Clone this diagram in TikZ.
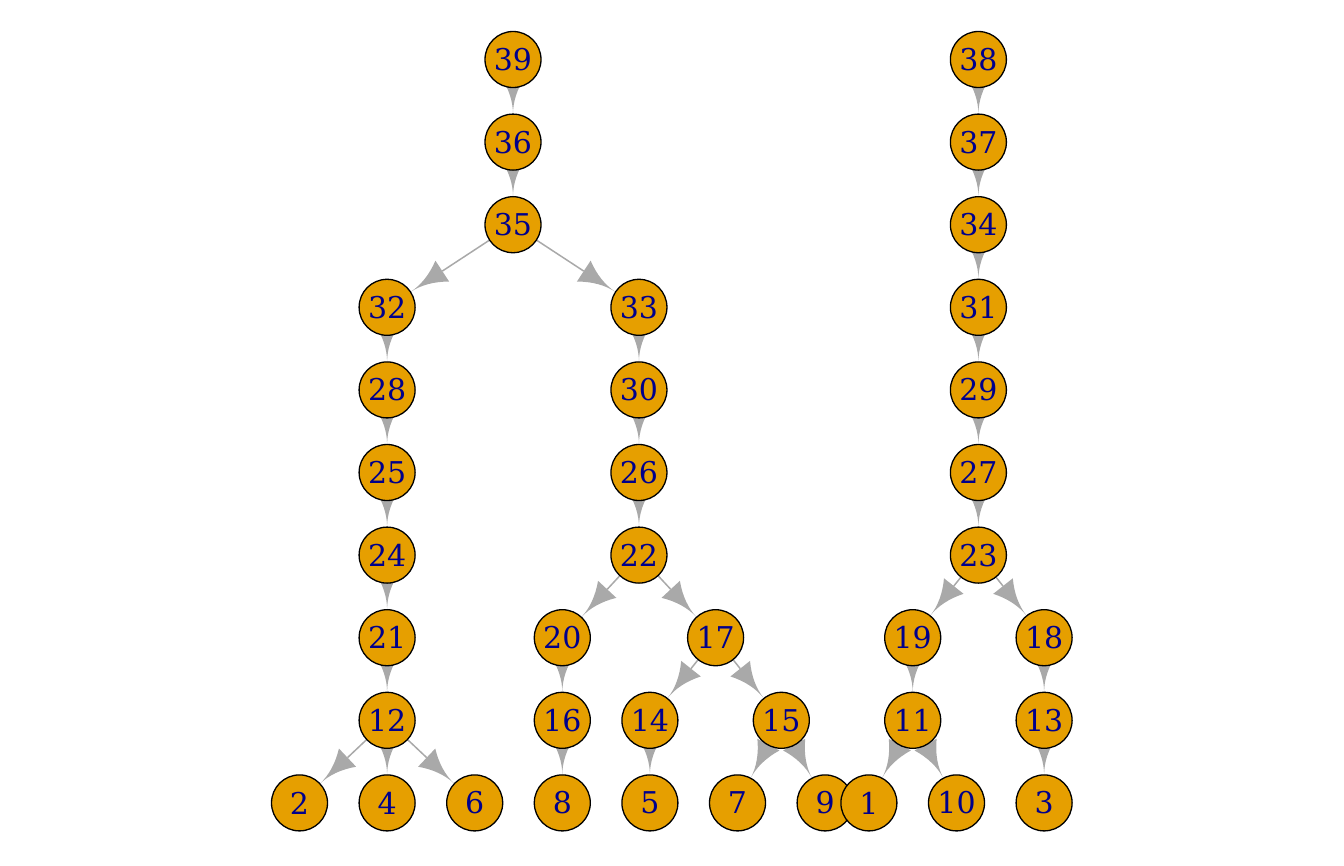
\documentclass[tikz,border=0pt]{standalone}
\usepackage{fontspec}
\setmainfont{DejaVu Serif}
\usetikzlibrary{calc}
\definecolor{vfill}{HTML}{E69F00}
\definecolor{vtext}{HTML}{00008B}
\definecolor{egray}{HTML}{A9A9A9}
\pgfdeclarelayer{bg}
\pgfsetlayers{bg,main}
\tikzset{
  vert/.style={circle, draw=black, line width=1.3pt, fill=vfill, text=vtext,
    minimum size=56pt, inner sep=0pt, font=\fontsize{30}{34}\selectfont},
  eline/.style={draw=egray, line width=1.5pt},
  ehead/.style={fill=egray, draw=none}
}
% #1 source, #2 target
\newcommand{\gedge}[2]{%
  \path ($(#2.center)!28pt!(#1.center)$) coordinate (T)
        ($(#2.center)!66pt!(#1.center)$) coordinate (K)
        ($(#2.center)!40.67pt!(#1.center)$) coordinate (C1)
        ($(#2.center)!53.33pt!(#1.center)$) coordinate (M);
  \draw[eline] ($(#1.center)!28pt!(#2.center)$) -- (K);
  \fill[ehead] (T) .. controls (C1) and ($(M)!4.17pt!90:(#2.center)$) .. ($(K)!12.5pt!90:(#2.center)$)
     -- ($(K)!12.5pt!-90:(#2.center)$) .. controls ($(M)!4.17pt!-90:(#2.center)$) and (C1) .. (T) -- cycle;
}
\begin{document}
\begin{tikzpicture}[x=1pt,y=-1pt]
\useasboundingbox (0,0) rectangle (1344,865);
% rows
\def\ra{59.5}\def\rb{142.1}\def\rc{224.7}\def\rd{307.3}\def\re{389.9}
\def\rf{472.5}\def\rg{555.1}\def\rh{637.7}\def\ri{720.3}\def\rj{802.9}
\node[vert] (n39) at (513.0,\ra) {39};
\node[vert] (n36) at (513.0,\rb) {36};
\node[vert] (n35) at (513.0,\rc) {35};
\node[vert] (n32) at (387.1,\rd) {32};
\node[vert] (n33) at (638.95,\rd) {33};
\node[vert] (n28) at (387.1,\re) {28};
\node[vert] (n25) at (387.1,\rf) {25};
\node[vert] (n24) at (387.1,\rg) {24};
\node[vert] (n21) at (387.1,\rh) {21};
\node[vert] (n12) at (387.1,\ri) {12};
\node[vert] (n2) at (299.5,\rj) {2};
\node[vert] (n4) at (387.1,\rj) {4};
\node[vert] (n6) at (474.7,\rj) {6};
\node[vert] (n30) at (638.95,\re) {30};
\node[vert] (n26) at (638.95,\rf) {26};
\node[vert] (n22) at (638.95,\rg) {22};
\node[vert] (n20) at (562.3,\rh) {20};
\node[vert] (n17) at (715.6,\rh) {17};
\node[vert] (n16) at (562.3,\ri) {16};
\node[vert] (n14) at (649.9,\ri) {14};
\node[vert] (n15) at (781.3,\ri) {15};
\node[vert] (n8) at (562.3,\rj) {8};
\node[vert] (n5) at (649.9,\rj) {5};
\node[vert] (n7) at (737.5,\rj) {7};
\node[vert] (n9) at (825.1,\rj) {9};
\node[vert] (n1) at (868.9,\rj) {1};
\node[vert] (n10) at (956.5,\rj) {10};
\node[vert] (n3) at (1044.1,\rj) {3};
\node[vert] (n38) at (978.4,\ra) {38};
\node[vert] (n37) at (978.4,\rb) {37};
\node[vert] (n34) at (978.4,\rc) {34};
\node[vert] (n31) at (978.4,\rd) {31};
\node[vert] (n29) at (978.4,\re) {29};
\node[vert] (n27) at (978.4,\rf) {27};
\node[vert] (n23) at (978.4,\rg) {23};
\node[vert] (n19) at (912.7,\rh) {19};
\node[vert] (n18) at (1044.1,\rh) {18};
\node[vert] (n11) at (912.7,\ri) {11};
\node[vert] (n13) at (1044.1,\ri) {13};
\begin{pgfonlayer}{bg}
\gedge{n39}{n36}\gedge{n36}{n35}\gedge{n35}{n32}\gedge{n35}{n33}
\gedge{n32}{n28}\gedge{n28}{n25}\gedge{n25}{n24}\gedge{n24}{n21}\gedge{n21}{n12}
\gedge{n12}{n2}\gedge{n12}{n4}\gedge{n12}{n6}
\gedge{n33}{n30}\gedge{n30}{n26}\gedge{n26}{n22}\gedge{n22}{n20}\gedge{n22}{n17}
\gedge{n20}{n16}\gedge{n16}{n8}\gedge{n17}{n14}\gedge{n17}{n15}\gedge{n14}{n5}
\gedge{n15}{n7}\gedge{n15}{n9}
\gedge{n38}{n37}\gedge{n37}{n34}\gedge{n34}{n31}\gedge{n31}{n29}\gedge{n29}{n27}
\gedge{n27}{n23}\gedge{n23}{n19}\gedge{n23}{n18}\gedge{n19}{n11}\gedge{n18}{n13}
\gedge{n11}{n1}\gedge{n11}{n10}\gedge{n13}{n3}
\end{pgfonlayer}
\end{tikzpicture}
\end{document}
